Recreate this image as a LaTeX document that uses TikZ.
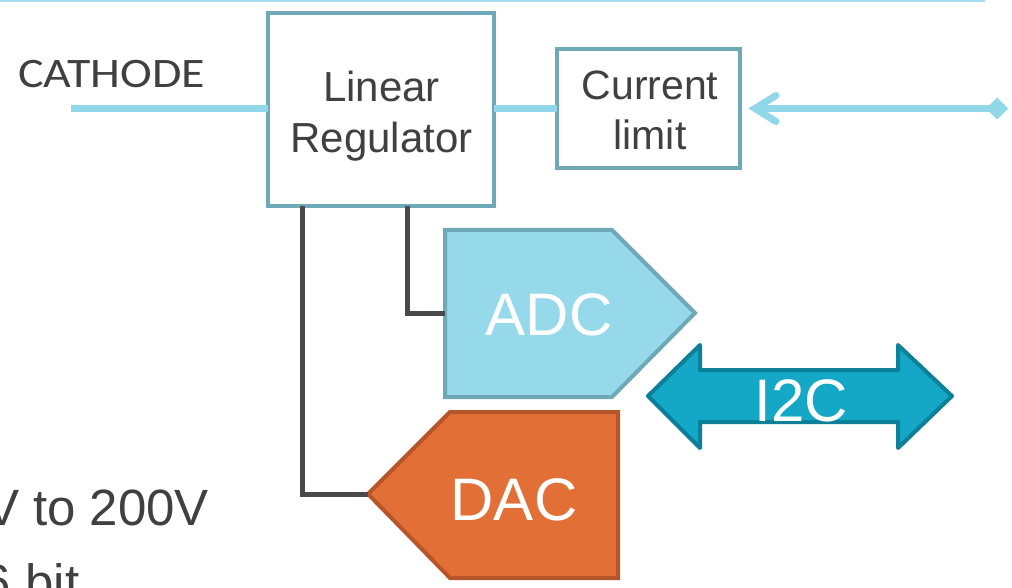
\documentclass[tikz,border=0pt]{standalone}
\usepackage{fontspec}
\setmainfont{Liberation Sans}
\newfontfamily\capfont{Carlito}
\usetikzlibrary{calc}

\definecolor{boxline}{HTML}{6FA9B7}
\definecolor{signal}{HTML}{8FD7E9}
\definecolor{rule}{HTML}{A3DEEE}
\definecolor{adcfill}{HTML}{95D9EA}
\definecolor{dacfill}{HTML}{E26F36}
\definecolor{dacline}{HTML}{B7552A}
\definecolor{busfill}{HTML}{14A7C6}
\definecolor{busline}{HTML}{0C8099}
\definecolor{wirecol}{HTML}{4A4A4A}
\definecolor{ink}{HTML}{404040}

\tikzset{
  block/.style={draw=boxline, line width=4, fill=white, inner sep=0, outer sep=0},
  sigline/.style={draw=signal, line width=7},
  wire/.style={draw=wirecol, line width=5},
  label/.style={text=ink, inner sep=0, outer sep=0},
  inlabel/.style={text=white, inner sep=0, outer sep=0, font=\fontsize{60}{60}\selectfont},
  boxtext/.style={label, align=center},
}

\begin{document}
\begin{tikzpicture}[x=1pt, y=-1pt]
\useasboundingbox (0,0) rectangle (1012,588);
\clip (0,0) rectangle (1012,588);

% thin rule along the top
\draw[rule, line width=2] (0,1) -- (985,1);

% blocks (the base anchor of a two-line label sits on its last line)
\node[block, minimum width=226, minimum height=193] (lr) at (381,109.5) {};
\node[block, minimum width=183, minimum height=119] (cl) at (648.5,108.5) {};
\node[boxtext, anchor=base, font=\fontsize{42}{51}\selectfont] (lrtext) at (381.5,153) {Linear\\Regulator};
\node[boxtext, anchor=base, font=\fontsize{41}{50}\selectfont] (cltext) at (650,150) {Current\\limit};

% cathode input
\node[label, anchor=base west, font=\capfont\fontsize{42}{42}\selectfont] (cath) at (18,88) {\scalebox{1.14}[1]{CATHODE}};
\coordinate (cathin) at (71,108.5);
\draw[sigline] (cathin) -- (cathin -| lr.west);

% regulator to current limit
\draw[sigline] (cl.west -| lr.east) -- (cl.west);

% supply input from the right with open arrow head
\coordinate (supply) at (997,108.5);
\coordinate (tip) at (755,108.5);
\draw[sigline] (supply) -- (tip);
\draw[sigline, line cap=round, line join=miter] (776,95.5) -- (tip) -- (776,121.5);
\fill[signal] ($(supply)+(-11,0)$) -- ($(supply)+(0,-11)$) -- ($(supply)+(11,0)$) -- ($(supply)+(0,11)$) -- cycle;

% ADC
\coordinate (adcin) at (445,313);
\draw[draw=boxline, fill=adcfill, line width=4, line join=miter]
  (445,230) -- (612,230) -- (695,313) -- (612,397) -- (445,397) -- cycle;
\node[inlabel, anchor=base] (adc) at (549,335) {ADC};

% DAC
\coordinate (dactip) at (368,494);
\draw[draw=dacline, fill=dacfill, line width=4, line join=miter]
  (618,412) -- (450,412) -- (dactip) -- (450,578) -- (618,578) -- cycle;
\node[inlabel, anchor=base] (dac) at (514,520) {DAC};

% I2C bus
\draw[draw=busline, fill=busfill, line width=4, line join=round]
  (648,396) -- (700,345) -- (700,370) -- (898,370) -- (898,345) -- (952,396)
  -- (898,448) -- (898,422) -- (700,422) -- (700,448) -- cycle;
\node[inlabel, anchor=base] (i2c) at (801,421) {I2C};

% wires from the regulator
\coordinate (lrA) at ([xshift=34]lr.south west);
\coordinate (lrB) at ([xshift=139]lr.south west);
\draw[wire] (lrA) |- (dactip);
\draw[wire] (lrB) |- (adcin);

% side notes
\node[label, anchor=base east, font=\fontsize{51}{51}\selectfont] (range) at (209,525) {V to 200V};
\node[label, anchor=base west, font=\fontsize{51}{51}\selectfont] (bits) at (-17,600) {6 bit};
\end{tikzpicture}
\end{document}
